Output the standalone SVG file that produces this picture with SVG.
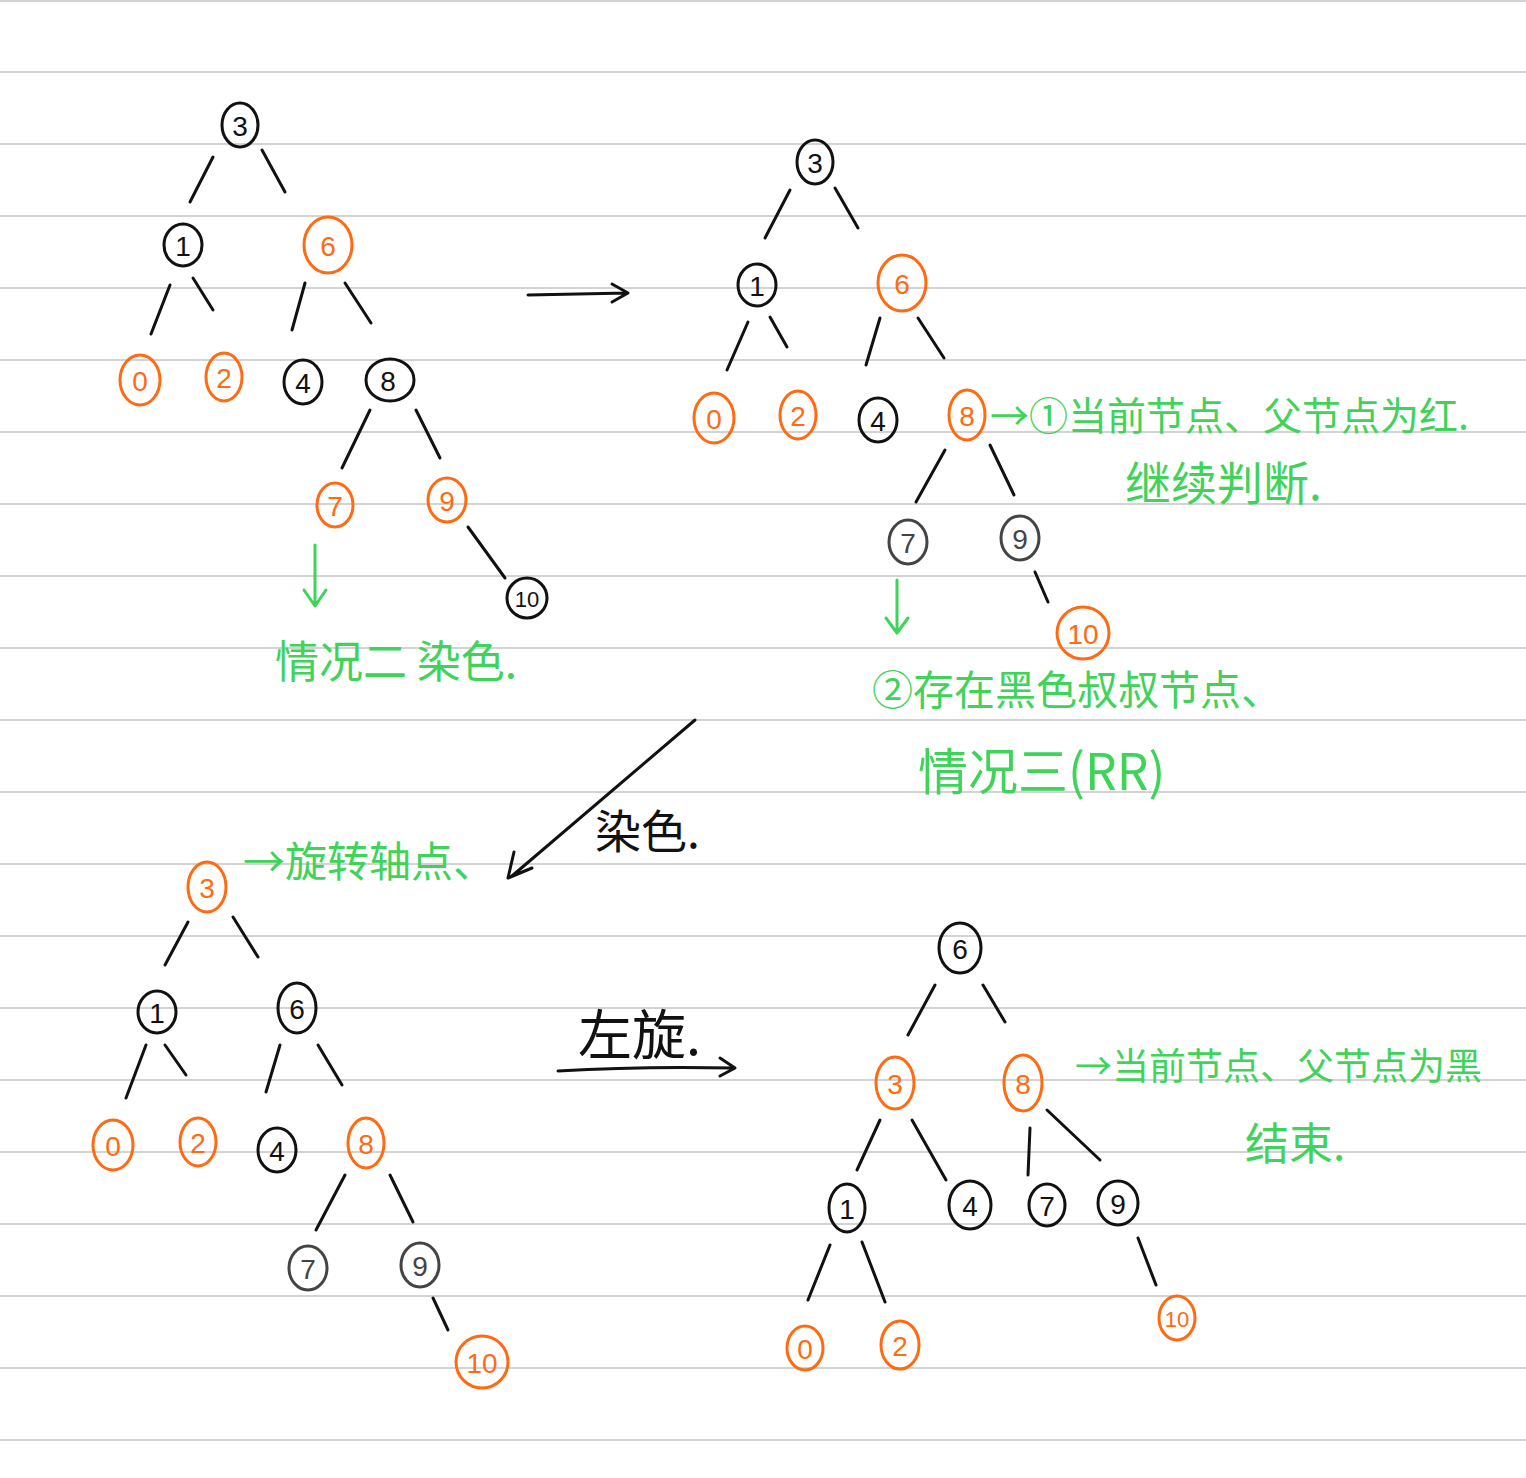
<svg xmlns="http://www.w3.org/2000/svg" width="1526" height="1478" viewBox="0 0 1526 1478">
<style>
.rule{stroke:#c4c4c4;stroke-width:1.5}
.e{stroke:#111;stroke-width:3;stroke-linecap:round;fill:none}
.nb ellipse{fill:none;stroke:#111;stroke-width:3}
.no ellipse{fill:none;stroke:#ff6a12;stroke-width:3}
.ng ellipse{fill:none;stroke:#444;stroke-width:3}
.nb text{fill:#111}
.no text{fill:#ff6a12}
.ng text{fill:#444}
.n text{font-family:"Liberation Sans",sans-serif;font-size:28px;text-anchor:middle;dominant-baseline:central}
.g{fill:#3fd35a;font-family:"Noto Sans CJK SC","Liberation Sans",sans-serif}
.k{fill:#111;font-family:"Noto Sans CJK SC","Liberation Sans",sans-serif}
.ga{stroke:#3fd35a;stroke-width:3;fill:none;stroke-linecap:round;stroke-linejoin:round}
.ka{stroke:#111;stroke-width:3;fill:none;stroke-linecap:round;stroke-linejoin:round}
</style>
<rect width="1526" height="1478" fill="#fff"/>
<g id="rules">
<line class="rule" x1="0" y1="1" x2="1526" y2="1"/>
<line class="rule" x1="0" y1="72" x2="1526" y2="72"/>
<line class="rule" x1="0" y1="144" x2="1526" y2="144"/>
<line class="rule" x1="0" y1="216" x2="1526" y2="216"/>
<line class="rule" x1="0" y1="288" x2="1526" y2="288"/>
<line class="rule" x1="0" y1="360" x2="1526" y2="360"/>
<line class="rule" x1="0" y1="432" x2="1526" y2="432"/>
<line class="rule" x1="0" y1="504" x2="1526" y2="504"/>
<line class="rule" x1="0" y1="576" x2="1526" y2="576"/>
<line class="rule" x1="0" y1="648" x2="1526" y2="648"/>
<line class="rule" x1="0" y1="720" x2="1526" y2="720"/>
<line class="rule" x1="0" y1="792" x2="1526" y2="792"/>
<line class="rule" x1="0" y1="864" x2="1526" y2="864"/>
<line class="rule" x1="0" y1="936" x2="1526" y2="936"/>
<line class="rule" x1="0" y1="1008" x2="1526" y2="1008"/>
<line class="rule" x1="0" y1="1080" x2="1526" y2="1080"/>
<line class="rule" x1="0" y1="1152" x2="1526" y2="1152"/>
<line class="rule" x1="0" y1="1224" x2="1526" y2="1224"/>
<line class="rule" x1="0" y1="1296" x2="1526" y2="1296"/>
<line class="rule" x1="0" y1="1368" x2="1526" y2="1368"/>
<line class="rule" x1="0" y1="1440" x2="1526" y2="1440"/>
</g>
<g id="connectors">
<line class="e" x1="213" y1="157" x2="190" y2="202"/>
<line class="e" x1="262" y1="150" x2="285" y2="192"/>
<line class="e" x1="170" y1="285" x2="151" y2="334"/>
<line class="e" x1="193" y1="278" x2="213" y2="310"/>
<line class="e" x1="305" y1="283" x2="292" y2="330"/>
<line class="e" x1="345" y1="283" x2="371" y2="323"/>
<line class="e" x1="370" y1="410" x2="342" y2="468"/>
<line class="e" x1="416" y1="410" x2="440" y2="458"/>
<line class="e" x1="468" y1="527" x2="505" y2="578"/>
<line class="e" x1="790" y1="190" x2="765" y2="238"/>
<line class="e" x1="835" y1="188" x2="858" y2="228"/>
<line class="e" x1="748" y1="322" x2="727" y2="370"/>
<line class="e" x1="770" y1="317" x2="787" y2="347"/>
<line class="e" x1="880" y1="318" x2="866" y2="365"/>
<line class="e" x1="918" y1="318" x2="944" y2="358"/>
<line class="e" x1="945" y1="450" x2="916" y2="502"/>
<line class="e" x1="990" y1="445" x2="1014" y2="495"/>
<line class="e" x1="1035" y1="572" x2="1048" y2="602"/>
<line class="e" x1="188" y1="922" x2="165" y2="965"/>
<line class="e" x1="233" y1="917" x2="258" y2="957"/>
<line class="e" x1="146" y1="1045" x2="126" y2="1098"/>
<line class="e" x1="165" y1="1045" x2="186" y2="1075"/>
<line class="e" x1="280" y1="1045" x2="266" y2="1092"/>
<line class="e" x1="318" y1="1045" x2="342" y2="1085"/>
<line class="e" x1="345" y1="1175" x2="316" y2="1230"/>
<line class="e" x1="390" y1="1175" x2="413" y2="1222"/>
<line class="e" x1="433" y1="1298" x2="448" y2="1330"/>
<line class="e" x1="935" y1="985" x2="908" y2="1035"/>
<line class="e" x1="983" y1="985" x2="1005" y2="1022"/>
<line class="e" x1="880" y1="1120" x2="857" y2="1170"/>
<line class="e" x1="912" y1="1120" x2="946" y2="1180"/>
<line class="e" x1="1030" y1="1128" x2="1028" y2="1175"/>
<line class="e" x1="1047" y1="1110" x2="1100" y2="1160"/>
<line class="e" x1="830" y1="1245" x2="808" y2="1300"/>
<line class="e" x1="862" y1="1242" x2="885" y2="1302"/>
<line class="e" x1="1138" y1="1238" x2="1156" y2="1285"/>
<path class="ka" d="M528 295 L628 293 M612 284 L628 293 L612 302"/>
<path class="ka" d="M695 720 L512 876 M514 852 L508 878 L532 868"/>
<path class="ka" d="M558 1071 Q640 1066 735 1068 M720 1058 L735 1068 L720 1076"/>
<path class="ga" d="M315 545 L315 605 M304 590 L315 606 L326 590"/>
<path class="ga" d="M897 580 L897 632 M886 618 L897 633 L908 618"/>
</g>
<g id="tree1">
<g id="t1n3" class="n nb"><ellipse cx="240" cy="125" rx="18" ry="22"/><text x="240" y="126">3</text></g>
<g id="t1n1" class="n nb"><ellipse cx="183" cy="245" rx="19" ry="21"/><text x="183" y="246">1</text></g>
<g id="t1n6" class="n no"><ellipse cx="328" cy="245" rx="24" ry="28"/><text x="328" y="246">6</text></g>
<g id="t1n0" class="n no"><ellipse cx="140" cy="380" rx="20" ry="25"/><text x="140" y="381">0</text></g>
<g id="t1n2" class="n no"><ellipse cx="224" cy="377" rx="18" ry="24"/><text x="224" y="378">2</text></g>
<g id="t1n4" class="n nb"><ellipse cx="303" cy="382" rx="19" ry="22"/><text x="303" y="383">4</text></g>
<g id="t1n8" class="n nb"><ellipse cx="390" cy="380" rx="24" ry="21"/><text x="388" y="381">8</text></g>
<g id="t1n7" class="n no"><ellipse cx="335" cy="505" rx="18" ry="22"/><text x="335" y="506">7</text></g>
<g id="t1n9" class="n no"><ellipse cx="447" cy="500" rx="19" ry="22"/><text x="447" y="501">9</text></g>
<g id="t1n10" class="n nb"><ellipse cx="527" cy="598" rx="20" ry="20"/><text x="527" y="599" style="font-size:22px">10</text></g>
</g>
<g id="tree2">
<g id="t2n3" class="n nb"><ellipse cx="815" cy="162" rx="18" ry="22"/><text x="815" y="163">3</text></g>
<g id="t2n1" class="n nb"><ellipse cx="757" cy="285" rx="19" ry="21"/><text x="757" y="286">1</text></g>
<g id="t2n6" class="n no"><ellipse cx="902" cy="283" rx="24" ry="28"/><text x="902" y="284">6</text></g>
<g id="t2n0" class="n no"><ellipse cx="714" cy="418" rx="20" ry="25"/><text x="714" y="419">0</text></g>
<g id="t2n2" class="n no"><ellipse cx="798" cy="415" rx="18" ry="24"/><text x="798" y="416">2</text></g>
<g id="t2n4" class="n nb"><ellipse cx="878" cy="420" rx="19" ry="22"/><text x="878" y="421">4</text></g>
<g id="t2n8" class="n no"><ellipse cx="967" cy="415" rx="18" ry="25"/><text x="967" y="416">8</text></g>
<g id="t2n7" class="n ng"><ellipse cx="908" cy="542" rx="19" ry="22"/><text x="908" y="543">7</text></g>
<g id="t2n9" class="n ng"><ellipse cx="1020" cy="538" rx="19" ry="22"/><text x="1020" y="539">9</text></g>
<g id="t2n10" class="n no"><ellipse cx="1083" cy="633" rx="26" ry="26"/><text x="1083" y="634">10</text></g>
</g>
<g id="tree3">
<g id="t3n3" class="n no"><ellipse cx="207" cy="887" rx="19" ry="25"/><text x="207" y="888">3</text></g>
<g id="t3n1" class="n nb"><ellipse cx="157" cy="1012" rx="19" ry="21"/><text x="157" y="1013">1</text></g>
<g id="t3n6" class="n nb"><ellipse cx="297" cy="1008" rx="19" ry="25"/><text x="297" y="1009">6</text></g>
<g id="t3n0" class="n no"><ellipse cx="113" cy="1145" rx="20" ry="25"/><text x="113" y="1146">0</text></g>
<g id="t3n2" class="n no"><ellipse cx="198" cy="1142" rx="18" ry="24"/><text x="198" y="1143">2</text></g>
<g id="t3n4" class="n nb"><ellipse cx="277" cy="1150" rx="19" ry="22"/><text x="277" y="1151">4</text></g>
<g id="t3n8" class="n no"><ellipse cx="366" cy="1143" rx="18" ry="25"/><text x="366" y="1144">8</text></g>
<g id="t3n7" class="n ng"><ellipse cx="308" cy="1268" rx="19" ry="22"/><text x="308" y="1269">7</text></g>
<g id="t3n9" class="n ng"><ellipse cx="420" cy="1265" rx="19" ry="22"/><text x="420" y="1266">9</text></g>
<g id="t3n10" class="n no"><ellipse cx="482" cy="1362" rx="26" ry="26"/><text x="482" y="1363">10</text></g>
</g>
<g id="tree4">
<g id="t4n6" class="n nb"><ellipse cx="960" cy="948" rx="21" ry="25"/><text x="960" y="949">6</text></g>
<g id="t4n3" class="n no"><ellipse cx="895" cy="1083" rx="19" ry="26"/><text x="895" y="1084">3</text></g>
<g id="t4n8" class="n no"><ellipse cx="1023" cy="1083" rx="19" ry="28"/><text x="1023" y="1084">8</text></g>
<g id="t4n1" class="n nb"><ellipse cx="847" cy="1208" rx="18" ry="24"/><text x="847" y="1209">1</text></g>
<g id="t4n4" class="n nb"><ellipse cx="970" cy="1205" rx="21" ry="24"/><text x="970" y="1206">4</text></g>
<g id="t4n7" class="n nb"><ellipse cx="1047" cy="1205" rx="18" ry="21"/><text x="1047" y="1206">7</text></g>
<g id="t4n9" class="n nb"><ellipse cx="1118" cy="1203" rx="20" ry="22"/><text x="1118" y="1204">9</text></g>
<g id="t4n0" class="n no"><ellipse cx="805" cy="1348" rx="18" ry="22"/><text x="805" y="1349">0</text></g>
<g id="t4n2" class="n no"><ellipse cx="900" cy="1345" rx="19" ry="24"/><text x="900" y="1346">2</text></g>
<g id="t4n10" class="n no"><ellipse cx="1177" cy="1318" rx="18" ry="22"/><text x="1177" y="1319" style="font-size:22px">10</text></g>
</g>
<g id="labels">
<text class="g" x="275" y="678" font-size="44">情况二 染色.</text>
<text class="g" x="990" y="430" font-size="39">→①当前节点、父节点为红.</text>
<text class="g" x="1125" y="500" font-size="46">继续判断.</text>
<text class="g" x="872" y="705" font-size="41">②存在黑色叔叔节点、</text>
<text class="g" x="918" y="790" font-size="50">情况三(RR)</text>
<text class="g" x="243" y="877" font-size="42">→旋转轴点、</text>
<text class="k" x="595" y="848" font-size="46">染色.</text>
<text class="k" x="578" y="1055" font-size="54">左旋.</text>
<text class="g" x="1075" y="1080" font-size="37">→当前节点、父节点为黑</text>
<text class="g" x="1245" y="1160" font-size="44">结束.</text>
</g>
</svg>
